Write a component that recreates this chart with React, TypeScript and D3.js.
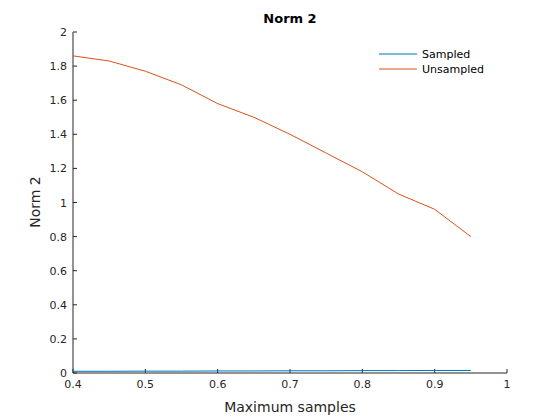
import React from "react";
import * as d3 from "d3";

const xs = [0.4, 0.45, 0.5, 0.55, 0.6, 0.65, 0.7, 0.75, 0.8, 0.85, 0.9, 0.95];
const sampled = [0.010, 0.010, 0.011, 0.011, 0.012, 0.012, 0.013, 0.013, 0.014, 0.014, 0.015, 0.015];
const unsampled = [1.86, 1.83, 1.77, 1.69, 1.58, 1.50, 1.40, 1.29, 1.18, 1.05, 0.96, 0.80];
const xTicks = [0.4, 0.5, 0.6, 0.7, 0.8, 0.9, 1];
const yTicks = [0, 0.2, 0.4, 0.6, 0.8, 1, 1.2, 1.4, 1.6, 1.8, 2];

export default function App() {
  const L = 73, R = 507, T = 32, B = 373;
  const x = d3.scaleLinear().domain([0.4, 1]).range([L, R]);
  const y = d3.scaleLinear().domain([0, 2]).range([B, T]);
  const line = (vals: number[]) =>
    d3.line<number>().x((_, i) => x(xs[i])).y(d => y(d))(vals) || "";
  const font = "DejaVu Sans, sans-serif";
  return (
    <svg width={560} height={420} style={{ position: "absolute", left: 0, top: 0, background: "#fff" }} fontFamily={font}>
      <rect width={560} height={420} fill="#fff" />
      <line x1={L} x2={R} y1={B} y2={B} stroke="#262626" />
      <line x1={L} x2={L} y1={T} y2={B} stroke="#262626" />
      {xTicks.map(t => (
        <g key={t}>
          <line x1={x(t)} x2={x(t)} y1={B} y2={B - 4} stroke="#262626" />
          <text x={x(t)} y={B + 15} fontSize={11} textAnchor="middle" fill="#262626">{t}</text>
        </g>
      ))}
      {yTicks.map(t => (
        <g key={t}>
          <line x1={L} x2={L + 4} y1={y(t)} y2={y(t)} stroke="#262626" />
          <text x={L - 6} y={y(t) + 4} fontSize={11} textAnchor="end" fill="#262626">{t}</text>
        </g>
      ))}
      <path d={line(sampled)} fill="none" stroke="#0072BD" strokeWidth={1} />
      <path d={line(unsampled)} fill="none" stroke="#D95319" strokeWidth={1} />
      <text x={290} y={23} fontSize={13} fontWeight="bold" textAnchor="middle" fill="#000">Norm 2</text>
      <text x={290} y={412} fontSize={14} textAnchor="middle" fill="#262626">Maximum samples</text>
      <text transform="translate(40,202) rotate(-90)" fontSize={14} textAnchor="middle" fill="#262626">Norm 2</text>
      <line x1={379} x2={417} y1={54} y2={54} stroke="#0072BD" />
      <text x={422} y={58} fontSize={11} fill="#000">Sampled</text>
      <line x1={379} x2={417} y1={69} y2={69} stroke="#D95319" />
      <text x={422} y={73} fontSize={11} fill="#000">Unsampled</text>
    </svg>
  );
}
